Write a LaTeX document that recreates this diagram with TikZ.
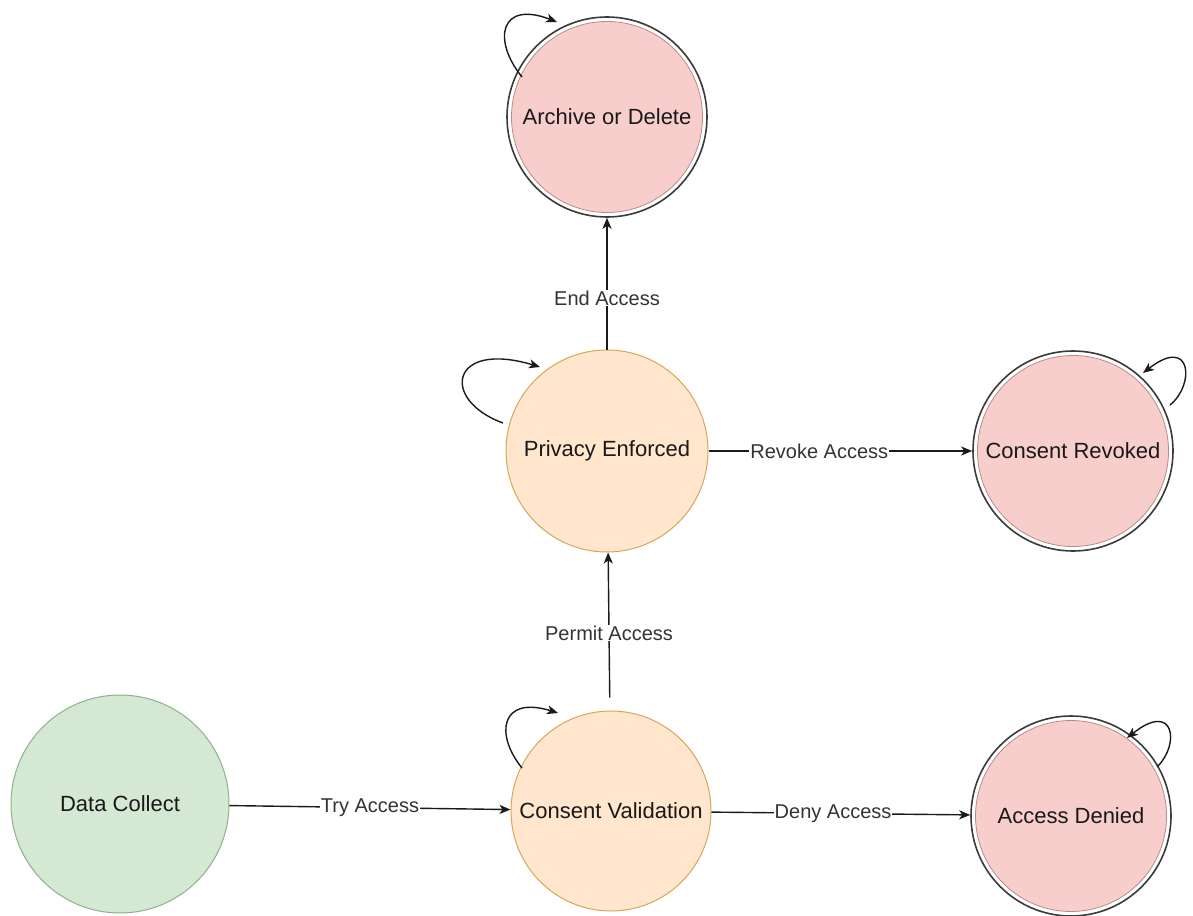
\documentclass[tikz,border=0pt]{standalone}
\usepackage{fontspec}
\setmainfont{Liberation Sans}
\usetikzlibrary{arrows.meta,calc}
\definecolor{greenfill}{HTML}{D5E8D4}
\definecolor{greenline}{HTML}{8FB08A}
\definecolor{orangefill}{HTML}{FFE6CC}
\definecolor{orangeline}{HTML}{D6A75A}
\definecolor{pinkfill}{HTML}{F8CECC}
\definecolor{pinkline}{HTML}{B88A88}
\definecolor{ringline}{HTML}{3A3A3A}
\definecolor{edgeline}{HTML}{1A1A1A}
\begin{document}
\begin{tikzpicture}[x=1pt,y=-1pt,
  state/.style={circle, inner sep=0pt, text=black!90, font=\fontsize{22}{26}\selectfont},
  startstate/.style={state, draw=greenline, line width=1pt, fill=greenfill, minimum size=218pt},
  midstate/.style={state, draw=orangeline, line width=1pt, fill=orangefill, minimum size=200pt},
  endstate/.style={state, draw=ringline, line width=1.6pt, fill=white, minimum size=200pt,
    path picture={\draw[draw=pinkline, line width=0.8pt, fill=pinkfill]
      (path picture bounding box.center) circle[radius=95.5pt];}},
  trans/.style={draw=edgeline, line width=1.4pt, -{Stealth[length=11pt,width=9pt,inset=3pt]}},
  selfloop/.style={trans},
  lbl/.style={fill=white, inner sep=1pt, text=black!80, font=\fontsize{20}{24}\selectfont}
]
\useasboundingbox (0,0) rectangle (1193,915);

% states
\node[startstate] (dc)  at (120,804)  {Data Collect};
\node[midstate]   (cv)  at (611,811)  {Consent Validation};
\node[midstate, minimum size=202pt] (pe) at (607,451) {Privacy Enforced};
\node[endstate]   (ad)  at (1071,816) {Access Denied};
\node[endstate]   (cr)  at (1073,451) {Consent Revoked};
\node[endstate]   (aod) at (607,117)  {Archive or Delete};

% transitions
\draw[trans] (dc) -- node[lbl] {Try Access} (cv);
\draw[trans] (cv) -- node[lbl, pos=0.47] {Deny Access} (ad);
\draw[trans, shorten <=13pt] (cv) -- node[lbl, pos=0.49] {Permit Access} (pe);
\draw[trans] (pe) -- node[lbl, pos=0.42] {Revoke Access} (cr);
\draw[trans] (pe) -- node[lbl, pos=0.39] {End Access} (aod);

% self loops
\coordinate (aodS) at ($(aod)+(-85,-40)$);
\coordinate (aodT) at ($(aod)+(-50,-95)$);
\draw[selfloop] (aodS) .. controls ($(aod)+(-115,-77)$) and ($(aod)+(-107,-117)$) .. (aodT);

\coordinate (peS) at ($(pe)+(-104,-28)$);
\coordinate (peT) at ($(pe)+(-67,-84)$);
\draw[selfloop] (peS) .. controls ($(pe)+(-167,-51)$) and ($(pe)+(-157,-111)$) .. (peT);

\coordinate (cvS) at ($(cv)+(-89,-43)$);
\coordinate (cvT) at ($(cv)+(-53,-98)$);
\draw[selfloop] (cvS) .. controls ($(cv)+(-116,-76)$) and ($(cv)+(-111,-116)$) .. (cvT);

\coordinate (crS) at ($(cr)+(97,-46)$);
\coordinate (crT) at ($(cr)+(70,-78)$);
\draw[selfloop] (crS) .. controls ($(cr)+(122,-66)$) and ($(cr)+(119,-116)$) .. (crT);

\coordinate (adS) at ($(ad)+(86,-49)$);
\coordinate (adT) at ($(ad)+(56,-78)$);
\draw[selfloop] (adS) .. controls ($(ad)+(109,-71)$) and ($(ad)+(104,-116)$) .. (adT);
\end{tikzpicture}
\end{document}
